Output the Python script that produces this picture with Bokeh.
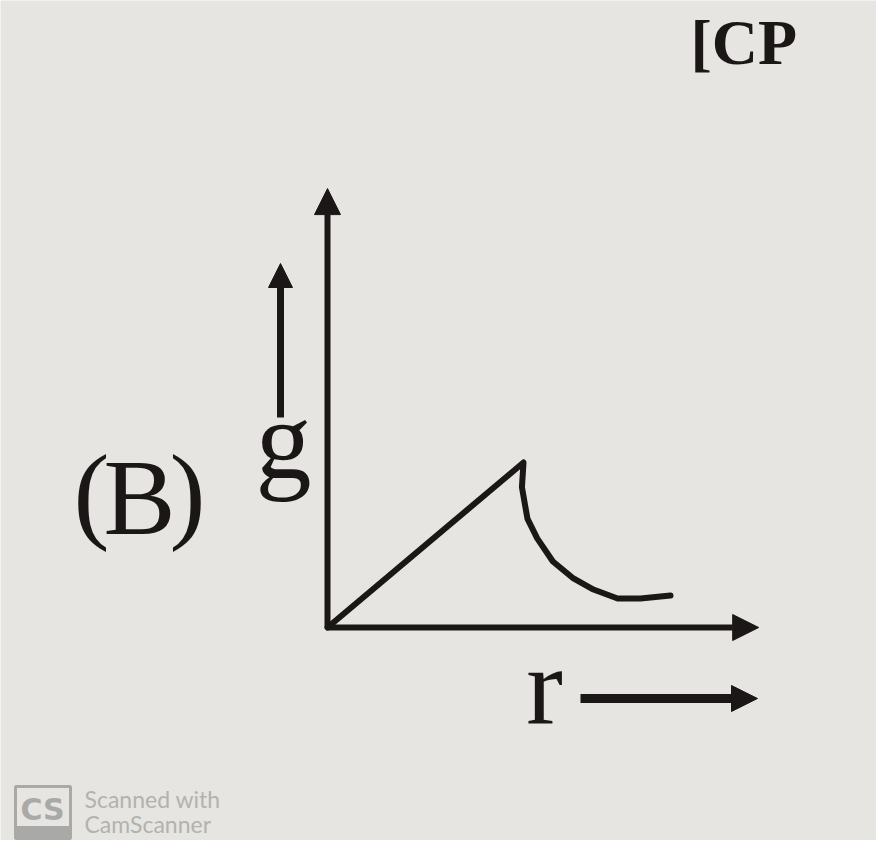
from bokeh.plotting import figure
from bokeh.models import Range1d, Arrow, NormalHead, Label
from bokeh.embed import file_html
from bokeh.resources import INLINE

# ---- data (r in units of R, g in units of g at surface) ----
r_curve = [0.0, 1.0, 0.992, 1.02, 1.07, 1.15, 1.255, 1.357, 1.48, 1.597, 1.75]
g_curve = [0.0, 1.0, 0.85, 0.66, 0.54, 0.40, 0.297, 0.23, 0.176, 0.176, 0.194]
axis_x_len = 2.2
axis_y_len = 2.66
label_y = "g"
label_x = "r"
header_text = "[CP"
wm_line1 = "Scanned with"
wm_line2 = "CamScanner"

# ---- layout ----
W, H = 876, 840
KX, KY = 196.0, 165.0          # px per unit
OX, OY = 327, 627              # origin in picture px
x0 = -OX / KX
x1 = x0 + W / KX
y1 = OY / KY
y0 = y1 - H / KY

def px(x):  # picture px -> data x
    return (x - OX) / KX

def py(y):  # picture px (from top) -> data y
    return (OY - y) / KY

INK = "#1b1717"
BG = "#e6e5e1"

p = figure(width=W, height=H, output_backend="svg", toolbar_location=None,
           x_range=Range1d(x0, x1), y_range=Range1d(y0, y1),
           min_border=0, background_fill_color=BG, border_fill_color=BG)
p.axis.visible = False
p.grid.visible = False
p.outline_line_color = None

# axes
p.add_layout(Arrow(end=NormalHead(size=26, fill_color=INK, line_color=INK),
                   x_start=0, y_start=0, x_end=0, y_end=axis_y_len,
                   line_color=INK, line_width=6))
p.add_layout(Arrow(end=NormalHead(size=26, fill_color=INK, line_color=INK),
                   x_start=0, y_start=0, x_end=axis_x_len, y_end=0,
                   line_color=INK, line_width=6))

# curve
p.line(r_curve, g_curve, line_color=INK, line_width=6, line_join="round", line_cap="round")

# g arrow
p.add_layout(Arrow(end=NormalHead(size=24, fill_color=INK, line_color=INK),
                   x_start=px(280), y_start=py(417), x_end=px(280), y_end=py(263),
                   line_color=INK, line_width=7))
# r arrow
p.add_layout(Arrow(end=NormalHead(size=26, fill_color=INK, line_color=INK),
                   x_start=px(580), y_start=py(698), x_end=px(757), y_end=py(698),
                   line_color=INK, line_width=9))

SERIF = "Liberation Serif"
SHIFT = 0.37  # baseline correction in em

def lab(text, x, y, size, align="center", style="normal", color=INK, font=SERIF):
    p.add_layout(Label(x=px(x), y=py(y - SHIFT * size), text=text, text_font=font,
                       text_font_size=f"{size}px", text_align=align,
                       text_baseline="alphabetic", text_color=color,
                       text_font_style=style))

# (B)
lab("(", 91, 532, 108)
lab("B", 139, 537, 108)
lab(")", 187, 532, 108)
# g and r
lab(label_y, 283, 481, 112)
lab(label_x, 544, 726, 110)
# header (kept inside the frame)
lab(header_text, 690, 66, 64, align="left", style="bold")

# watermark
WM = "#a9a9a7"
p.quad(left=[px(15)], right=[px(70)], top=[py(786)], bottom=[py(838)],
       fill_color=None, line_color=WM, line_width=3)
p.quad(left=[px(15)], right=[px(70)], top=[py(826)], bottom=[py(838)],
       fill_color=WM, line_color=WM, line_width=1)
lab("CS", 42, 820, 30, style="bold", color=WM, font="DejaVu Sans")
lab(wm_line1, 84, 807, 23, align="left", color="#b2b2b0", font="Lato")
lab(wm_line2, 84, 832, 23, align="left", color="#b2b2b0", font="Lato")

open("out.html", "w").write(file_html(p, INLINE))
